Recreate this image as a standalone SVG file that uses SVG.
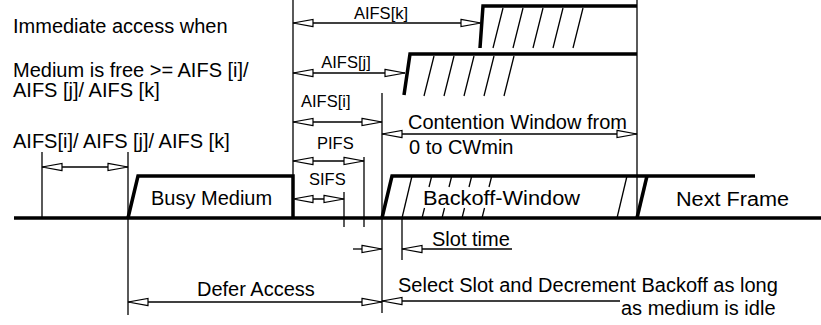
<svg xmlns="http://www.w3.org/2000/svg" width="821" height="325" viewBox="0 0 821 325">
<style>
text{font-family:"Liberation Sans",Arial,sans-serif;fill:#000}
.b{font-size:20px}
.s{font-size:16.5px}
.m{text-anchor:middle}
.thin{stroke:#000;stroke-width:1.3;fill:none}
.thick{stroke:#000;stroke-width:3.5;fill:none;stroke-linejoin:miter}
.h{stroke:#000;stroke-width:1.3;fill:none}
.arr{stroke:#000;stroke-width:1.3;fill:none;marker-end:url(#ah)}
.arr2{stroke:#000;stroke-width:1.3;fill:none;marker-start:url(#ah);marker-end:url(#ah)}
</style>
<defs>
<marker id="ah" markerUnits="userSpaceOnUse" markerWidth="22" markerHeight="10" refX="20" refY="4" orient="auto-start-reverse" viewBox="-1 -1 22 10">
<path d="M0,0.4 L20,4 L0,7.6 z" fill="#fff" stroke="#000" stroke-width="1.2"/>
</marker>
</defs>
<rect width="821" height="325" fill="#fff"/>

<g id="labels">
<text class="b" x="13" y="33">Immediate access when</text>
<text class="b" x="13" y="77">Medium is free &gt;= AIFS [i]/</text>
<text class="b" x="13" y="97">AIFS [j]/ AIFS [k]</text>
<text class="b" x="13" y="148">AIFS[i]/ AIFS [j]/ AIFS [k]</text>
</g>

<g id="timeline">
<line class="thick" x1="14" y1="218" x2="821" y2="218"/>
</g>

<g id="busy-medium">
<polyline class="thick" points="128,218 138,176 293,176 293,218"/>
<text class="b" x="151" y="205">Busy Medium</text>
</g>

<g id="aifs-k-window">
<polyline class="thick" points="480,48 483,6 637,6"/>
<g class="h">
<line x1="493" y1="48" x2="503" y2="8"/>
<line x1="513" y1="48" x2="523" y2="8"/>
<line x1="533" y1="48" x2="543" y2="8"/>
<line x1="553" y1="48" x2="563" y2="8"/>
<line x1="573" y1="48" x2="583" y2="8"/>
</g>
</g>

<g id="aifs-j-window">
<polyline class="thick" points="404,95 410,54 637,54"/>
<g class="h">
<line x1="424" y1="96" x2="434" y2="56"/>
<line x1="444" y1="96" x2="454" y2="56"/>
<line x1="464" y1="96" x2="474" y2="56"/>
<line x1="484" y1="96" x2="494" y2="56"/>
<line x1="504" y1="96" x2="514" y2="56"/>
</g>
</g>

<g id="backoff-window">
<polyline class="thick" points="382,218 392,176 755,176"/>
<g class="h">
<line x1="402" y1="218" x2="412" y2="176"/>
<line x1="429" y1="187" x2="431.5" y2="177"/>
<line x1="449" y1="187" x2="451.5" y2="177"/>
<line x1="469" y1="187" x2="471.5" y2="177"/>
<line x1="489" y1="187" x2="491.5" y2="177"/>
<line x1="422" y1="218" x2="424.5" y2="208"/>
<line x1="442" y1="218" x2="444.5" y2="208"/>
<line x1="462" y1="218" x2="464.5" y2="208"/>
<line x1="482" y1="218" x2="484.5" y2="208"/>
<line x1="617" y1="218" x2="627" y2="176"/>
</g>
<text class="b" x="423" y="205" font-size="21" textLength="157" lengthAdjust="spacingAndGlyphs">Backoff-Window</text>
</g>

<g id="next-frame">
<line class="thick" x1="637" y1="218" x2="647" y2="176"/>
<text class="b" x="676" y="206" textLength="113" lengthAdjust="spacingAndGlyphs">Next Frame</text>
</g>

<g id="connectors">
<line class="thin" x1="293" y1="0" x2="293" y2="218"/>
<line class="thin" x1="637" y1="0" x2="637" y2="218"/>
<line class="thin" x1="42" y1="152" x2="42" y2="218"/>
<line class="thin" x1="128" y1="152" x2="128" y2="315"/>
<line class="thin" x1="382" y1="93" x2="382" y2="313"/>
<line class="thin" x1="364" y1="157" x2="364" y2="227"/>
<line class="thin" x1="344" y1="192" x2="344" y2="227"/>
<line class="thin" x1="402" y1="218" x2="402" y2="260"/>

<line class="arr2" x1="42" y1="167" x2="128" y2="167"/>
<line class="arr2" x1="293" y1="23" x2="481" y2="23"/>
<line class="arr2" x1="293" y1="73" x2="405" y2="73"/>
<line class="arr2" x1="293" y1="122" x2="382" y2="122"/>
<line class="arr2" x1="293" y1="161" x2="364" y2="161"/>
<line class="arr2" x1="293" y1="199" x2="344" y2="199"/>
<line class="arr2" x1="382" y1="134" x2="637" y2="134"/>
<line class="arr" x1="353" y1="249" x2="382" y2="249"/>
<line class="arr" x1="512" y1="249" x2="402" y2="249"/>
<line class="arr2" x1="128" y1="302" x2="382" y2="302"/>
<line class="arr" x1="620" y1="301" x2="382" y2="301"/>
</g>

<g id="dimension-labels">
<text class="s m" x="381" y="19">AIFS[k]</text>
<text class="s m" x="346" y="68">AIFS[j]</text>
<text class="s" x="301" y="107">AIFS[i]</text>
<text class="s" x="317" y="149">PIFS</text>
<text class="s" x="309" y="185">SIFS</text>
<text class="b" x="408" y="129">Contention Window from</text>
<text class="b" x="409" y="154">0 to CWmin</text>
<text class="b" x="432" y="246">Slot time</text>
<text class="b" x="197" y="296">Defer Access</text>
<text class="b" x="398" y="292">Select Slot and Decrement Backoff as long</text>
<text class="b" x="621" y="315">as medium is idle</text>
</g>
</svg>
